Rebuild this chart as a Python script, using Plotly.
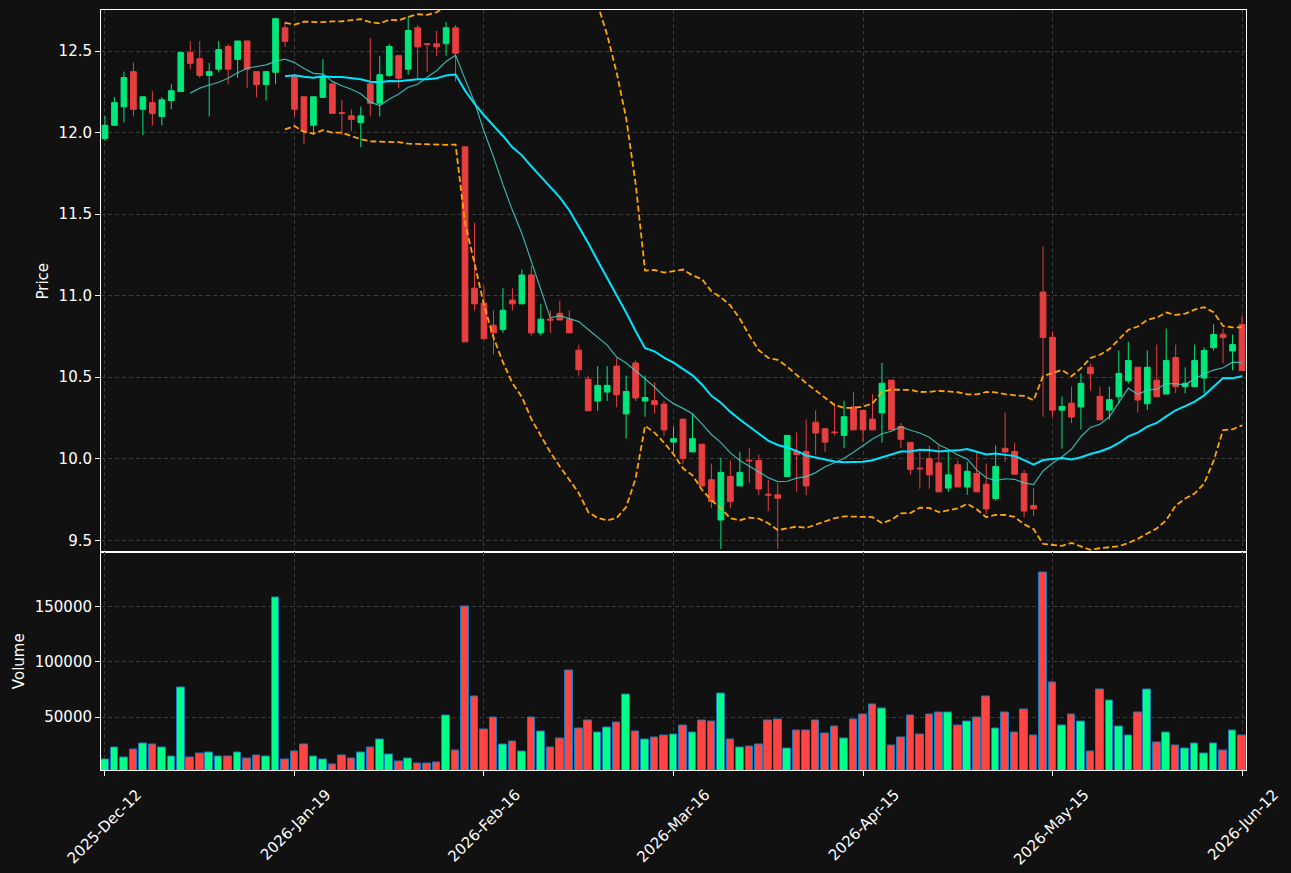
import numpy as np
import pandas as pd
import plotly.graph_objects as go

# ---------------- data ----------------
tick_labels = ["2025-Dec-12", "2026-Jan-19", "2026-Feb-16", "2026-Mar-16",
               "2026-Apr-15", "2026-May-15", "2026-Jun-12"]
tick_index = [0, 20, 40, 60, 80, 100, 120]

opens = [11.964, 12.045, 12.158, 12.374, 12.143, 12.184, 12.099, 12.197, 12.252, 12.491,
         12.453, 12.351, 12.389, 12.528, 12.449, 12.562, 12.374, 12.295, 12.370, 12.643,
         12.346, 12.220, 12.045, 12.216, 12.299, 12.122, 12.103, 12.062, 12.299, 12.180,
         12.351, 12.472, 12.389, 12.643, 12.545, 12.545, 12.545, 12.643, 11.913, 11.046,
         10.954, 10.819, 10.792, 10.973, 10.950, 11.127, 10.772, 10.856, 10.892, 10.856,
         10.666, 10.488, 10.354, 10.409, 10.568, 10.275, 10.587, 10.354, 10.356, 10.335,
         10.102, 10.243, 10.042, 10.089, 9.871, 9.624, 9.891, 9.833, 9.991, 9.989,
         9.782, 9.779, 9.891, 10.044, 10.044, 10.224, 10.184, 10.164, 10.143, 10.318,
         10.296, 10.243, 10.281, 10.482, 10.198, 10.100, 9.942, 10.000, 9.974, 9.820,
         9.963, 9.827, 9.910, 9.844, 9.756, 10.064, 10.044, 9.910, 9.713, 11.022,
         10.745, 10.298, 10.341, 10.318, 10.561, 10.382, 10.298, 10.380, 10.478, 10.561,
         10.337, 10.482, 10.397, 10.621, 10.442, 10.442, 10.495, 10.681, 10.764, 10.661,
         10.824]
highs = [12.101, 12.218, 12.374, 12.430, 12.220, 12.254, 12.218, 12.297, 12.491, 12.562,
         12.562, 12.427, 12.562, 12.545, 12.562, 12.562, 12.374, 12.374, 12.699, 12.682,
         12.357, 12.220, 12.220, 12.451, 12.299, 12.199, 12.143, 12.160, 12.581, 12.470,
         12.545, 12.472, 12.714, 12.660, 12.545, 12.624, 12.679, 12.660, 11.913, 11.447,
         11.059, 10.909, 11.046, 11.046, 11.161, 11.182, 10.950, 10.909, 10.969, 10.909,
         10.700, 10.510, 10.568, 10.568, 10.617, 10.510, 10.604, 10.510, 10.469, 10.354,
         10.196, 10.243, 10.279, 10.089, 9.970, 10.006, 9.989, 10.042, 10.066, 10.025,
         9.871, 9.850, 10.143, 10.162, 10.241, 10.297, 10.184, 10.339, 10.356, 10.412,
         10.296, 10.395, 10.587, 10.482, 10.219, 10.100, 10.042, 10.081, 10.081, 10.042,
         9.989, 9.980, 10.042, 9.970, 10.081, 10.283, 10.098, 9.931, 9.820, 11.302,
         10.781, 10.382, 10.442, 10.523, 10.585, 10.442, 10.442, 10.664, 10.717, 10.561,
         10.664, 10.700, 10.798, 10.700, 10.561, 10.700, 10.683, 10.824, 10.798, 10.762,
         10.877]
lows = [11.949, 12.040, 12.062, 12.099, 11.985, 12.045, 12.045, 12.143, 12.252, 12.389,
        12.336, 12.099, 12.370, 12.297, 12.336, 12.272, 12.216, 12.197, 12.297, 12.526,
        12.099, 11.930, 11.985, 12.216, 12.118, 11.985, 12.007, 11.911, 12.099, 12.099,
        12.340, 12.272, 12.355, 12.333, 12.372, 12.468, 12.472, 12.314, 10.717, 10.909,
        10.736, 10.640, 10.772, 10.909, 10.950, 10.755, 10.755, 10.772, 10.851, 10.772,
        10.510, 10.294, 10.294, 10.354, 10.316, 10.123, 10.354, 10.258, 10.277, 10.140,
        10.042, 9.970, 10.042, 9.833, 9.698, 9.446, 9.698, 9.833, 9.852, 9.777,
        9.679, 9.446, 9.891, 9.797, 9.777, 10.025, 10.042, 10.143, 10.066, 10.177,
        10.102, 10.177, 10.098, 10.177, 10.066, 9.901, 9.816, 9.816, 9.797, 9.797,
        9.827, 9.779, 9.797, 9.660, 9.743, 9.982, 9.905, 9.639, 9.649, 10.258,
        10.258, 10.061, 10.219, 10.179, 10.418, 10.239, 10.239, 10.341, 10.461, 10.283,
        10.298, 10.380, 10.397, 10.401, 10.401, 10.442, 10.401, 10.664, 10.585, 10.542,
        10.540]
closes = [12.045, 12.184, 12.338, 12.143, 12.220, 12.118, 12.201, 12.257, 12.491, 12.425,
          12.351, 12.374, 12.509, 12.389, 12.562, 12.389, 12.295, 12.374, 12.699, 12.560,
          12.143, 12.007, 12.220, 12.338, 12.118, 12.118, 12.081, 12.103, 12.180, 12.355,
          12.528, 12.333, 12.626, 12.526, 12.541, 12.526, 12.643, 12.487, 10.717, 10.950,
          10.736, 10.772, 10.911, 10.950, 11.127, 10.772, 10.856, 10.851, 10.851, 10.772,
          10.546, 10.294, 10.450, 10.450, 10.392, 10.412, 10.373, 10.375, 10.333, 10.177,
          10.123, 10.002, 10.123, 9.833, 9.737, 9.916, 9.737, 9.916, 9.987, 9.814,
          9.777, 9.758, 10.143, 10.025, 9.833, 10.158, 10.102, 10.160, 10.258, 10.177,
          10.177, 10.177, 10.463, 10.177, 10.119, 9.935, 9.938, 9.901, 9.797, 9.901,
          9.827, 9.923, 9.797, 9.692, 9.953, 10.042, 9.905, 9.679, 9.692, 10.743,
          10.298, 10.320, 10.256, 10.463, 10.521, 10.239, 10.362, 10.523, 10.602, 10.360,
          10.561, 10.380, 10.602, 10.442, 10.463, 10.602, 10.664, 10.762, 10.743, 10.700,
          10.540]
volumes = [11818, 22727, 13636, 20909, 26364, 25455, 22727, 14545, 77273, 13636,
           17273, 18182, 14545, 14545, 18182, 12727, 15455, 14545, 158182, 11818,
           19091, 25455, 14545, 11818, 7273, 15455, 12727, 18182, 22727, 30000,
           16364, 10000, 12727, 8182, 8182, 9091, 51818, 20000, 150000, 69091,
           39091, 50000, 25455, 28182, 19091, 50000, 37273, 22727, 30909, 91818,
           40000, 47273, 36364, 40909, 45455, 70909, 37273, 30000, 31818, 33636,
           34545, 42727, 36364, 47273, 46364, 71818, 30000, 22727, 23636, 25455,
           47273, 48182, 21818, 38182, 38182, 47273, 35455, 41818, 30909, 48182,
           52727, 61818, 58182, 24545, 31818, 51818, 34545, 52727, 54545, 54545,
           42727, 46364, 50000, 69091, 40000, 54545, 36364, 57273, 33636, 180909,
           81818, 42727, 52727, 46364, 19091, 75455, 65455, 41818, 33636, 54545,
           75455, 27273, 36364, 24545, 21818, 26364, 17273, 26364, 20000, 38182,
           33636]

# ---------------- derived ----------------
idx = list(range(len(closes)))
close_s = pd.Series(closes)
ma10 = close_s.rolling(10).mean()
ma20 = close_s.rolling(20).mean()
sd20 = close_s.rolling(20).std(ddof=0)
bb_up = ma20 + 2 * sd20
bb_lo = ma20 - 2 * sd20

UP = "#00ff88"
DOWN = "#ff4444"
vol_colors = [UP if c >= o else DOWN for o, c in zip(opens, closes)]

BG = "#111111"
GRID = "#3a3a3a"
FONT = "DejaVu Sans"
FS = 15

fig = go.Figure()

fig.add_trace(go.Candlestick(
    x=idx, open=opens, high=highs, low=lows, close=closes,
    increasing=dict(line=dict(color=UP, width=1), fillcolor=UP),
    decreasing=dict(line=dict(color=DOWN, width=1), fillcolor=DOWN),
    opacity=0.9, xaxis="x", yaxis="y", showlegend=False, name="OHLC"))

fig.add_trace(go.Scatter(x=idx, y=ma10, mode="lines",
                         line=dict(color="rgba(64,208,200,0.85)", width=1.2),
                         xaxis="x", yaxis="y", showlegend=False, name="MA10"))
fig.add_trace(go.Scatter(x=idx, y=ma20, mode="lines",
                         line=dict(color="#00e5ff", width=2),
                         xaxis="x", yaxis="y", showlegend=False, name="MA20"))
fig.add_trace(go.Scatter(x=idx, y=bb_up, mode="lines",
                         line=dict(color="#ffa500", width=1.8, dash="6px,3px"),
                         xaxis="x", yaxis="y", showlegend=False, name="BB upper"))
fig.add_trace(go.Scatter(x=idx, y=bb_lo, mode="lines",
                         line=dict(color="#ffa500", width=1.8, dash="6px,3px"),
                         xaxis="x", yaxis="y", showlegend=False, name="BB lower"))

fig.add_trace(go.Bar(x=idx, y=volumes, width=0.8,
                     marker=dict(color=vol_colors, line=dict(color="#1f77b4", width=1)),
                     xaxis="x2", yaxis="y2", showlegend=False, name="Volume"))

xr = [-0.42, len(closes) - 1 + 0.42]
vol_range = [0.3 * min(volumes), 1.1 * max(volumes)]

axis_common = dict(showline=True, linecolor="white", linewidth=1, mirror=True,
                   gridcolor=GRID, griddash="4px,3px", gridwidth=1,
                   zeroline=False, ticks="outside", ticklen=5, tickcolor="white",
                   automargin=False,
                   tickfont=dict(family=FONT, size=FS, color="white"))

fig.update_layout(
    width=1291, height=873,
    margin=dict(l=101, r=45, t=10, b=103),
    paper_bgcolor=BG, plot_bgcolor=BG,
    font=dict(family=FONT, size=FS, color="white"),
    boxgap=0.4, boxgroupgap=0,
    bargap=0,
    xaxis=dict(axis_common, domain=[0, 1], range=xr, anchor="y",
               tickvals=tick_index, ticktext=tick_labels, showticklabels=False,
               ticks="", rangeslider=dict(visible=False), showgrid=True),
    yaxis=dict(axis_common, domain=[0.2862, 1], range=[9.425, 12.752], anchor="x",
               dtick=0.5, tickformat=".1f",
               title=dict(text="Price", font=dict(family=FONT, size=FS, color="white"),
                          standoff=6)),
    xaxis2=dict(axis_common, domain=[0, 1], range=xr, anchor="y2", matches="x",
                tickvals=tick_index, ticktext=tick_labels, tickangle=-45,
                ticklabelshift=32, ticklabelstandoff=4, showgrid=True),
    yaxis2=dict(axis_common, domain=[0, 0.2862], range=vol_range, anchor="x2",
                tickvals=[50000, 100000, 150000], tickformat="d",
                title=dict(text="Volume", font=dict(family=FONT, size=FS, color="white"),
                           standoff=6)),
)

fig.write_html("out.html", config={"displayModeBar": False})
